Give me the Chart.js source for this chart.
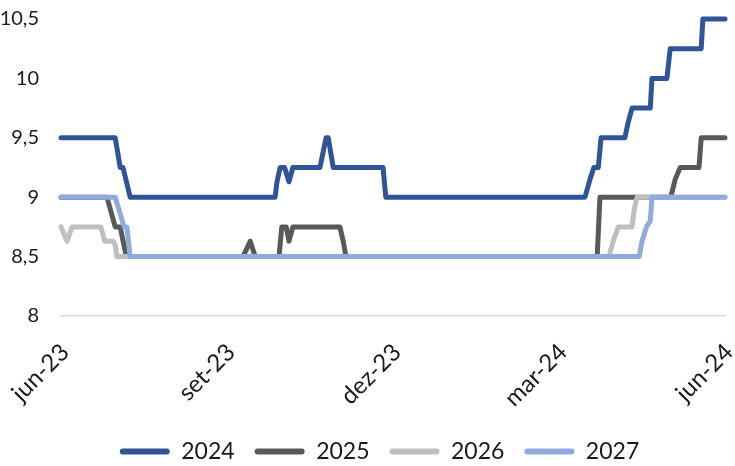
<!DOCTYPE html>
<html>
<head>
<meta charset="utf-8">
<script src="https://cdn.jsdelivr.net/npm/chart.js@4"></script>
<style>
  html, body { margin: 0; padding: 0; background: #fff; }
  #wrap { width: 735px; height: 466px; }
</style>
</head>
<body>
<div id="wrap"><canvas id="chart"></canvas></div>
<script>
// x in months since jun-23, y in %
const xTickLabels = ['jun-23', 'set-23', 'dez-23', 'mar-24', 'jun-24'];
const yTicks = [8, 8.5, 9, 9.5, 10, 10.5];
const seriesNames = ['2024', '2025', '2026', '2027'];

const x2024 = [0, 0.98, 1.07, 1.12, 1.25, 3.87, 3.90, 3.96, 4.04, 4.12, 4.19, 4.68, 4.79, 4.83, 4.92, 5.82, 5.87, 9.47, 9.56, 9.63, 9.71, 9.76, 10.19, 10.25, 10.32, 10.65, 10.68, 10.95, 11.01, 11.57, 11.60, 12];
const y2024 = [9.5, 9.5, 9.25, 9.25, 9, 9, 9.12, 9.25, 9.25, 9.13, 9.25, 9.25, 9.5, 9.5, 9.25, 9.25, 9, 9, 9.15, 9.25, 9.25, 9.5, 9.5, 9.63, 9.75, 9.75, 10, 10, 10.25, 10.25, 10.5, 10.5];

const x2025 = [0, 0.83, 0.98, 1.07, 1.18, 3.29, 3.42, 3.51, 3.94, 3.99, 4.07, 4.12, 4.19, 5.04, 5.10, 5.15, 9.69, 9.74, 11.02, 11.10, 11.19, 11.53, 11.57, 12];
const y2025 = [9, 9, 8.75, 8.75, 8.5, 8.5, 8.63, 8.5, 8.5, 8.75, 8.75, 8.63, 8.75, 8.75, 8.63, 8.5, 8.5, 9, 9, 9.15, 9.25, 9.25, 9.5, 9.5];

const x2026 = [0, 0.11, 0.20, 0.72, 0.79, 0.94, 0.98, 1.01, 9.90, 9.98, 10.07, 10.32, 10.36, 10.41, 12];
const y2026 = [8.75, 8.63, 8.75, 8.75, 8.63, 8.63, 8.6, 8.5, 8.5, 8.63, 8.75, 8.75, 8.9, 9, 9];

const x2027 = [0, 0.98, 1.14, 1.19, 1.25, 10.45, 10.50, 10.58, 10.65, 10.68, 12];
const y2027 = [9, 9, 8.75, 8.75, 8.5, 8.5, 8.63, 8.75, 8.8, 9, 9];

const colors = ['#2F5597', '#595959', '#BFBFBF', '#8FAADC'];

function pts(xs, ys) {
    return xs.map((x, i) => ({ x: x, y: ys[i] }));
}

const allX = [x2024, x2025, x2026, x2027];
const allY = [y2024, y2025, y2026, y2027];

// later series sit on top
const datasets = seriesNames.map((name, i) => ({
    label: name,
    data: pts(allX[i], allY[i]),
    borderColor: colors[i],
    backgroundColor: colors[i],
    borderWidth: 5,
    pointRadius: 0,
    tension: 0,
    clip: 8,
    borderJoinStyle: 'round',
    borderCapStyle: 'round',
    order: seriesNames.length - i
}));

const textColor = '#1a1a1a';

// nudge the legend a little right and down, like the original
const legendNudge = {
    id: 'legendNudge',
    afterLayout(chart) {
        const lg = chart.legend;
        lg.left += 17; lg.right += 17;
        lg.top += 7; lg.bottom += 7;
    }
};

new Chart(document.getElementById('chart').getContext('2d'), {
    type: 'line',
    data: { datasets: datasets },
    plugins: [legendNudge],
    options: {
        responsive: true,
        maintainAspectRatio: false,
        animation: false,
        layout: { padding: { left: 0, right: 10, top: 19, bottom: 0 } },
        plugins: {
            tooltip: { enabled: false },
            legend: {
                position: 'bottom',
                labels: {
                    color: textColor,
                    font: { family: 'Lato', size: 23 },
                    boxWidth: 50,
                    boxHeight: 6,
                    padding: 20,
                    useBorderRadius: true,
                    borderRadius: 3,
                    sort: (a, b) => a.datasetIndex - b.datasetIndex,
                    generateLabels: chart => Chart.defaults.plugins.legend.labels.generateLabels(chart)
                        .map(item => Object.assign(item, { lineWidth: 0 }))
                }
            }
        },
        scales: {
            x: {
                type: 'linear',
                min: 0,
                max: 12,
                afterBuildTicks: axis => { axis.ticks = xTickLabels.map((l, i) => ({ value: i * 3 })); },
                afterFit: axis => {
                    axis.paddingLeft = 0;
                    axis.paddingRight = 0;
                    axis.height = 97;
                },
                ticks: {
                    color: textColor,
                    font: { family: 'Lato', size: 24 },
                    minRotation: 45,
                    maxRotation: 45,
                    padding: 14,
                    labelOffset: 4,
                    callback: (v) => xTickLabels[Math.round(v / 3)]
                },
                grid: { display: false },
                border: { display: true, color: '#D9D9D9', width: 1.5 }
            },
            y: {
                min: 8,
                max: 10.5,
                afterBuildTicks: axis => { axis.ticks = yTicks.map(v => ({ value: v })); },
                afterFit: axis => {
                    axis.paddingTop = 0;
                    axis.paddingBottom = 0;
                    axis.width = 61;
                },
                ticks: {
                    color: textColor,
                    font: { family: 'Lato', size: 20 },
                    padding: 22,
                    callback: v => String(v).replace('.', ',')
                },
                grid: { display: false, drawTicks: false },
                border: { display: false }
            }
        }
    }
});
</script>
</body>
</html>
